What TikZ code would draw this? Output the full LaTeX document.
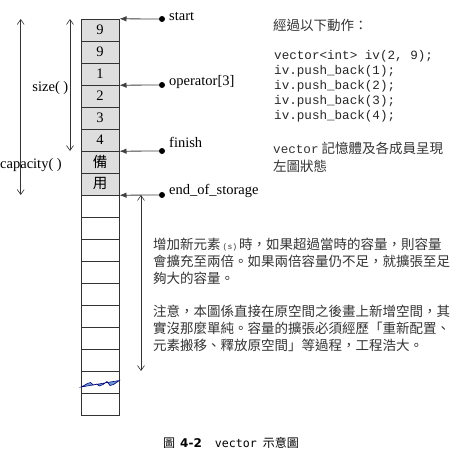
\documentclass[tikz,border=0pt]{standalone}
\usepackage{fontspec}
\setmainfont{Liberation Serif}
\setmonofont{Liberation Mono}
\newfontfamily\cjk{Noto Sans CJK TC}
\newfontfamily\capmono{DejaVu Sans Mono}
\newfontfamily\capsans{DejaVu Sans}
\usetikzlibrary{arrows.meta,positioning}
\tikzset{
cell/.style={draw=black!80, minimum width=38.6pt, minimum height=22pt, inner sep=0pt,
  font=\fontsize{14.5}{14.5}\selectfont},
used/.style={cell, fill=black!13},
dot/.style={circle, fill=black, inner sep=0pt, minimum size=6pt},
ptr/.style={-{Latex[length=7pt,width=5.5pt]}, draw=black!75, line width=0.8pt},
dim/.style={{Straight Barb[length=5pt,width=7pt]}-{Straight Barb[length=5pt,width=7pt]},
  draw=black!80, line width=0.6pt},
lbl/.style={anchor=west, inner sep=0pt, font=\fontsize{14.5}{14.5}\selectfont},
code/.style={anchor=west, inner sep=0pt, text=black!85, font=\ttfamily\fontsize{12.6}{12.6}\selectfont},
note/.style={anchor=west, inner sep=0pt, text=black!80, font=\cjk\fontsize{13.5}{13.5}\selectfont}
}

\begin{document}
\begin{tikzpicture}[x=1pt,y=-1pt]
  \useasboundingbox (0,0) rectangle (469,461);
  % the memory column
  \foreach \v [count=\i] in {9,9,1,2,3,4,{\cjk 備},{\cjk 用}}
    \node[used] (c\i) at (100,8+22*\i) {\v};
  \foreach \i in {9,...,18}
    \node[cell] (c\i) at (100,8+22*\i) {};
  \filldraw[fill=cyan!50!blue!60, draw=blue!45!black, line width=0.6pt]
    (81,387) -- (84,385.5) -- (87.5,383.5) -- (90.5,382.5) -- (93.5,385) -- (96.5,384)
    -- (99.5,386) -- (103,384.5) -- (107,381.5) -- (110,385.5) -- (113.5,384.5)
    -- (116.5,382.5) -- (119.3,380.5) -- cycle;

  % iterators
  \node[dot] (dstart) at (162,19) {};
  \node[lbl] (start) at (169,16) {start};
  \draw[ptr] (dstart) -- (c1.north east);
  \node[dot] (dop) at (162,85) {};
  \node[lbl] (op) at (169,82) {operator[3]};
  \draw[ptr] (dop) -- (c3.south east);
  \node[dot] (dfinish) at (162,151) {};
  \node[lbl] (finish) at (169,142) {finish};
  \draw[ptr] (dfinish) -- (c6.south east);
  \node[dot] (dend) at (162,195) {};
  \node[lbl] (eos) at (169,191) {end\_of\_storage};
  \draw[ptr] (dend) -- (c8.south east);

  % size and capacity
  \coordinate (sztop) at (70,19);
  \coordinate (szbot) at (70,151);
  \draw[dim] (sztop) -- (szbot);
  \node[lbl, anchor=east] (size) at (68.5,88) {size( )};
  \coordinate (captop) at (20.7,19);
  \coordinate (capbot) at (20.7,195);
  \draw[dim] (captop) -- (capbot);
  \node[lbl] (capacity) at (0,165) {capacity( )};
  \coordinate (newtop) at (141,195);
  \coordinate (newbot) at (141,371);
  \draw[dim] (newtop) -- (newbot);

  % steps
  \node[note] (steps) at (273,25) {經過以下動作：};
  \foreach \t [count=\i] in {{vector<int> iv(2, 9);},{iv.push\_back(1);},
      {iv.push\_back(2);},{iv.push\_back(3);},{iv.push\_back(4);}}
    \node[code] (code\i) at (274,41+15*\i) {\t};
  \node[note] (state1) at (273,148) {{\ttfamily\fontsize{12.6}{12.6}\selectfont vector} 記憶體及各成員呈現};
  \node[note] (state2) at (273,166) {左圖狀態};

  % remarks
  \foreach \t/\y [count=\i] in {增加新元素\hspace{2pt}{\ttfamily\fontsize{8}{8}\selectfont(s)}\hspace{2pt}時，如果超過當時的容量，則容量/245,
      會擴充至兩倍。如果兩倍容量仍不足，就擴張至足/261.7,
      夠大的容量。/278.3,
      注意，本圖係直接在原空間之後畫上新增空間，其/311.7,
      實沒那麼單純。容量的擴張必須經歷「重新配置、/328.3,
      元素搬移、釋放原空間」等過程，工程浩大。/345}
    \node[note] (note\i) at (153,\y) {\t};

  % caption
  \node[note, text=black] (caption) at (163,443)
    {\fontsize{12}{12}\selectfont 圖\hspace{5pt}{\capsans\bfseries 4-2}\hspace{13pt}{\capmono\fontsize{11.6}{11.6}\selectfont vector}\hspace{6pt}示意圖};
\end{tikzpicture}
\end{document}
